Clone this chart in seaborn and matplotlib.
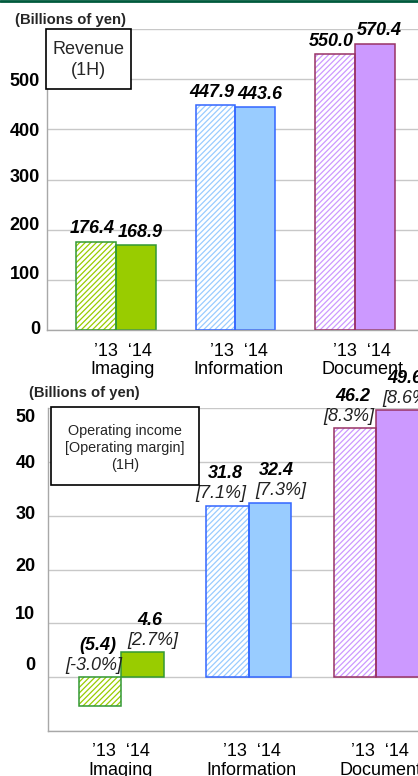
import numpy as np
import pandas as pd
import matplotlib
matplotlib.use("Agg")
import matplotlib.pyplot as plt
from matplotlib.patches import Rectangle
from matplotlib.lines import Line2D
from matplotlib.transforms import ScaledTranslation
import seaborn as sns

# data
segments = ["Imaging", "Information", "Document"]
years = ["'13", "'14"]
revenue_13 = [176.4, 447.9, 550.0]
revenue_14 = [168.9, 443.6, 570.4]
income_13 = [-5.4, 31.8, 46.2]
income_14 = [4.6, 32.4, 49.6]
margin_13 = [-3.0, 7.1, 8.3]
margin_14 = [2.7, 7.3, 8.6]
year_ticks = "\u201913  \u201814"

# colours per segment: fill, edge
fills = ["#99CC00", "#99CCFF", "#CC99FF"]
edges = ["#339933", "#3366FF", "#993366"]

sns.set_theme(style="white")
plt.rcParams["font.family"] = ["Liberation Sans", "DejaVu Sans"]
plt.rcParams["hatch.linewidth"] = 0.9

W, H = 418, 776
fig = plt.figure(figsize=(W / 100, H / 100), dpi=100)


def px_box(left, top, right, bottom):
    return [left / W, 1 - bottom / H, (right - left) / W, (bottom - top) / H]


def make_df(v13, v14):
    return pd.DataFrame({
        "segment": segments * 2,
        "year": [years[0]] * 3 + [years[1]] * 3,
        "value": list(v13) + list(v14),
    })


def style_bars(ax):
    # containers: one per year, bars in segment order
    for yi, cont in enumerate(ax.containers):
        for si, bar in enumerate(cont):
            if yi == 0:
                bar.set_facecolor("white")
                bar.set_edgecolor(fills[si])
                bar.set_hatch("//////")
                bar.set_linewidth(0)
                outline = Rectangle(bar.get_xy(), bar.get_width(), bar.get_height(),
                                    fill=False, edgecolor=edges[si], linewidth=1.1, zorder=3)
                ax.add_patch(outline)
            else:
                bar.set_facecolor(fills[si])
                bar.set_edgecolor(edges[si])
                bar.set_linewidth(1.1)


def style_axes(ax, ticks, labels, pad_y, pad_x):
    ax.set_yticks(ticks)
    ax.set_yticklabels(labels, fontsize=13, fontweight="bold")
    ax.set_xticks(range(len(segments)))
    ax.set_xticklabels([year_ticks + "\n" + s for s in segments], fontsize=13, linespacing=1.1)
    ax.tick_params(axis="y", length=0, pad=pad_y, colors="black")
    ax.tick_params(axis="x", length=0, pad=pad_x, colors="black")
    ax.grid(axis="y", color="#c8c8c8", linewidth=1)
    ax.set_axisbelow(True)
    ax.set_xlabel("")
    ax.set_ylabel("")
    for side in ["top", "right"]:
        ax.spines[side].set_visible(False)
    for side in ["left", "bottom"]:
        ax.spines[side].set_color("#a8a8a8")
        ax.spines[side].set_linewidth(1)


def nudge(labels, dxs, dys):
    # shift tick labels by pixels (the original chart's labels sit slightly off)
    for lab, dx, dy in zip(labels, dxs, dys):
        lab.set_transform(lab.get_transform() + ScaledTranslation(dx / 100, -dy / 100, fig.dpi_scale_trans))


# ---- top chart: revenue
ax1 = fig.add_axes(px_box(47, 29, 418, 330))
sns.barplot(data=make_df(revenue_13, revenue_14), x="segment", y="value", hue="year",
            width=0.667, ax=ax1, legend=False, saturation=1)
style_bars(ax1)
ax1.set_ylim(0, 600)
ax1.set_xlim(-0.575, 2.525)
style_axes(ax1, range(0, 700, 100), [str(t) for t in range(0, 600, 100)] + [""], 5, 9)
nudge(ax1.get_yticklabels(), [0] * 7, [-3, -7, -6, -4, 0, 0, 0])
nudge(ax1.get_xticklabels(), [7, 3, 7], [0, 0, 0])

for yi, cont in enumerate(ax1.containers):
    dx = -4 if yi == 0 else 4
    for bar in cont:
        x = bar.get_x() + bar.get_width() / 2
        ax1.annotate(f"{bar.get_height():.1f}", xy=(x, bar.get_height()),
                     xytext=(dx * 0.72, 13 * 0.72), textcoords="offset points",
                     ha="center", va="center", fontsize=13, fontweight="bold",
                     fontstyle="italic", color="black", annotation_clip=False)

# ---- bottom chart: operating income
ax2 = fig.add_axes(px_box(48, 408, 418, 731))
sns.barplot(data=make_df(income_13, income_14), x="segment", y="value", hue="year",
            width=0.667, ax=ax2, legend=False, saturation=1)
style_bars(ax2)
ax2.set_ylim(-10, 50)
ax2.set_xlim(-0.573, 2.329)
style_axes(ax2, range(-10, 60, 10), [""] + [str(t) for t in range(0, 60, 10)], 9, 9)
nudge(ax2.get_yticklabels(), [0] * 7, [0, -14, -11, -5, -3, 0, 7])
nudge(ax2.get_xticklabels(), [0, 3, 4], [0, 0, 0])

margins = [margin_13, margin_14]
incomes = [income_13, income_14]
for yi, cont in enumerate(ax2.containers):
    dx_v, dx_m = (-2, -6) if yi == 0 else (7, 11)
    for si, bar in enumerate(cont):
        v = incomes[yi][si]
        base = max(v, 0)
        x = bar.get_x() + bar.get_width() / 2
        txt = f"({abs(v):.1f})" if v < 0 else f"{v:.1f}"
        ax2.annotate(txt, xy=(x, base), xytext=(dx_v * 0.72, 32 * 0.72), textcoords="offset points",
                     ha="center", va="center", fontsize=13, fontweight="bold",
                     fontstyle="italic", color="black", annotation_clip=False)
        ax2.annotate(f"[{margins[yi][si]:.1f}%]", xy=(x, base), xytext=(dx_m * 0.72, 12 * 0.72),
                     textcoords="offset points", ha="center", va="center", fontsize=13,
                     fontstyle="italic", color="#222222", annotation_clip=False)

# ---- captions and boxes
fig.text(15 / W, 1 - 20 / H, "(Billions of yen)", fontsize=10.7, fontweight="bold", va="center")
fig.text(29 / W, 1 - 393 / H, "(Billions of yen)", fontsize=10.6, fontweight="bold", va="center")

fig.add_artist(Rectangle((46 / W, 1 - 89 / H), 85 / W, 60 / H, transform=fig.transFigure,
                         facecolor="white", edgecolor="black", linewidth=1.2, zorder=5))
fig.text(88 / W, 1 - 60 / H, "Revenue\n(1H)", fontsize=13, ha="center", va="center",
         linespacing=1.25, zorder=6)

fig.add_artist(Rectangle((51 / W, 1 - 485 / H), 148 / W, 78 / H, transform=fig.transFigure,
                         facecolor="white", edgecolor="black", linewidth=1.2, zorder=5))
fig.text(125 / W, 1 - 448 / H, "Operating income\n[Operating margin]\n(1H)", fontsize=10.4,
         ha="center", va="center", linespacing=1.3, zorder=6)

fig.add_artist(Line2D([0, 1], [1 - 1 / H, 1 - 1 / H], transform=fig.transFigure,
                      color="#005a3c", linewidth=2))

fig.savefig("out.png", dpi=100)
